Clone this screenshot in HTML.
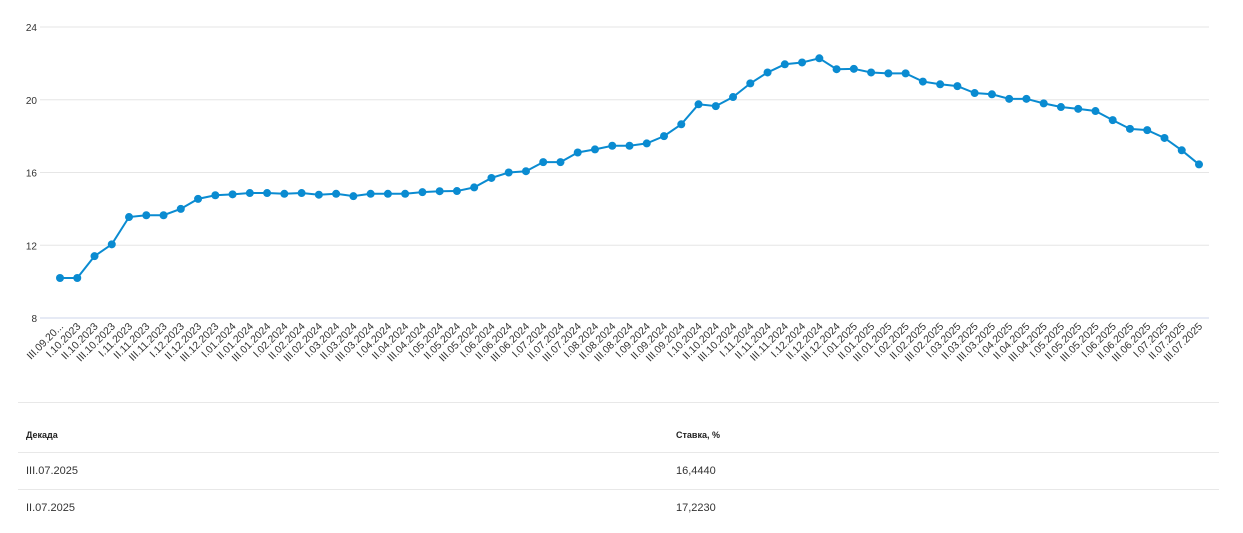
<!DOCTYPE html>
<html><head><meta charset="utf-8">
<style>
body{margin:0;background:#fff;width:1243px;height:533px;overflow:hidden;font-family:"Liberation Sans",sans-serif;position:relative}
svg{position:absolute;left:0;top:0}
.line{position:absolute;left:18px;width:1201px;height:1px;background:#e8e8e8}
.cell{position:absolute;color:#333;font-size:11px}
.hd{font-weight:bold;font-size:9px;color:#222}
</style></head><body>
<svg id="chart" width="1243" height="400"></svg>
<div class="line" style="top:402px"></div>
<div class="cell hd" style="left:26px;top:430px">Декада</div>
<div class="cell hd" style="left:676px;top:430px">Ставка, %</div>
<div class="line" style="top:452px"></div>
<div class="cell" style="left:26px;top:465px">III.07.2025</div>
<div class="cell" style="left:676px;top:465px">16,4440</div>
<div class="line" style="top:489px"></div>
<div class="cell" style="left:26px;top:502px">II.07.2025</div>
<div class="cell" style="left:676px;top:502px">17,2230</div>
<script>
const categories=["III.09.20...","I.10.2023","II.10.2023","III.10.2023","I.11.2023","II.11.2023","III.11.2023","I.12.2023","II.12.2023","III.12.2023","I.01.2024","II.01.2024","III.01.2024","I.02.2024","II.02.2024","III.02.2024","I.03.2024","II.03.2024","III.03.2024","I.04.2024","II.04.2024","III.04.2024","I.05.2024","II.05.2024","III.05.2024","I.06.2024","II.06.2024","III.06.2024","I.07.2024","II.07.2024","III.07.2024","I.08.2024","II.08.2024","III.08.2024","I.09.2024","II.09.2024","III.09.2024","I.10.2024","II.10.2024","III.10.2024","I.11.2024","II.11.2024","III.11.2024","I.12.2024","II.12.2024","III.12.2024","I.01.2025","II.01.2025","III.01.2025","I.02.2025","II.02.2025","III.02.2025","I.03.2025","II.03.2025","III.03.2025","I.04.2025","II.04.2025","III.04.2025","I.05.2025","II.05.2025","III.05.2025","I.06.2025","II.06.2025","III.06.2025","I.07.2025","II.07.2025","III.07.2025"];
const values=[10.2,10.2,11.4,12.05,13.55,13.65,13.65,14.0,14.55,14.75,14.8,14.87,14.87,14.83,14.87,14.78,14.83,14.7,14.83,14.83,14.83,14.92,14.97,14.98,15.18,15.7,16.0,16.07,16.57,16.57,17.1,17.27,17.47,17.47,17.6,18.0,18.65,19.75,19.65,20.15,20.9,21.5,21.95,22.05,22.28,21.68,21.7,21.5,21.45,21.45,21.0,20.85,20.75,20.37,20.3,20.05,20.05,19.8,19.6,19.5,19.38,18.88,18.4,18.33,17.9,17.22,16.444];
const yTicks=[8,12,16,20,24];
const NS="http://www.w3.org/2000/svg";
const svg=document.getElementById('chart');
const x0=60,x1=1199,gl=40,gr=1209,yTop=27,yBot=318,vMin=8,vMax=24;
const xs=i=>x0+(x1-x0)*i/(categories.length-1);
const ys=v=>yBot-(v-vMin)/(vMax-vMin)*(yBot-yTop);
function mk(t,a){const e=document.createElementNS(NS,t);for(const k in a)e.setAttribute(k,a[k]);svg.appendChild(e);return e;}
yTicks.forEach(t=>{
  const g=mk('line',{x1:gl,x2:gr,y1:ys(t),y2:ys(t),stroke:t===8?'#ccd6eb':'#e6e6e6','stroke-width':1});
  
  
  const l=mk('text',{x:37,y:ys(t)+4,'text-anchor':'end','font-size':10,fill:'#333','font-family':'Liberation Sans, sans-serif'});
  l.textContent=t;
  
  
});
categories.forEach((c,i)=>{
  const x=xs(i);
  const t=mk('text',{x:x+4,y:327,'text-anchor':'end','font-size':10.5,fill:'#333','font-family':'Liberation Sans, sans-serif',transform:`rotate(-45 ${x+4} 327)`});
  t.textContent=c;
  
  
});
const p=mk('polyline',{points:values.map((v,i)=>xs(i)+','+ys(v)).join(' '),fill:'none',stroke:'#0a8bd1','stroke-width':2});


values.forEach((v,i)=>{
  const c=mk('circle',{cx:xs(i),cy:ys(v),r:4,fill:'#0a8bd1'});
  
  
});
</script>
</body></html>
